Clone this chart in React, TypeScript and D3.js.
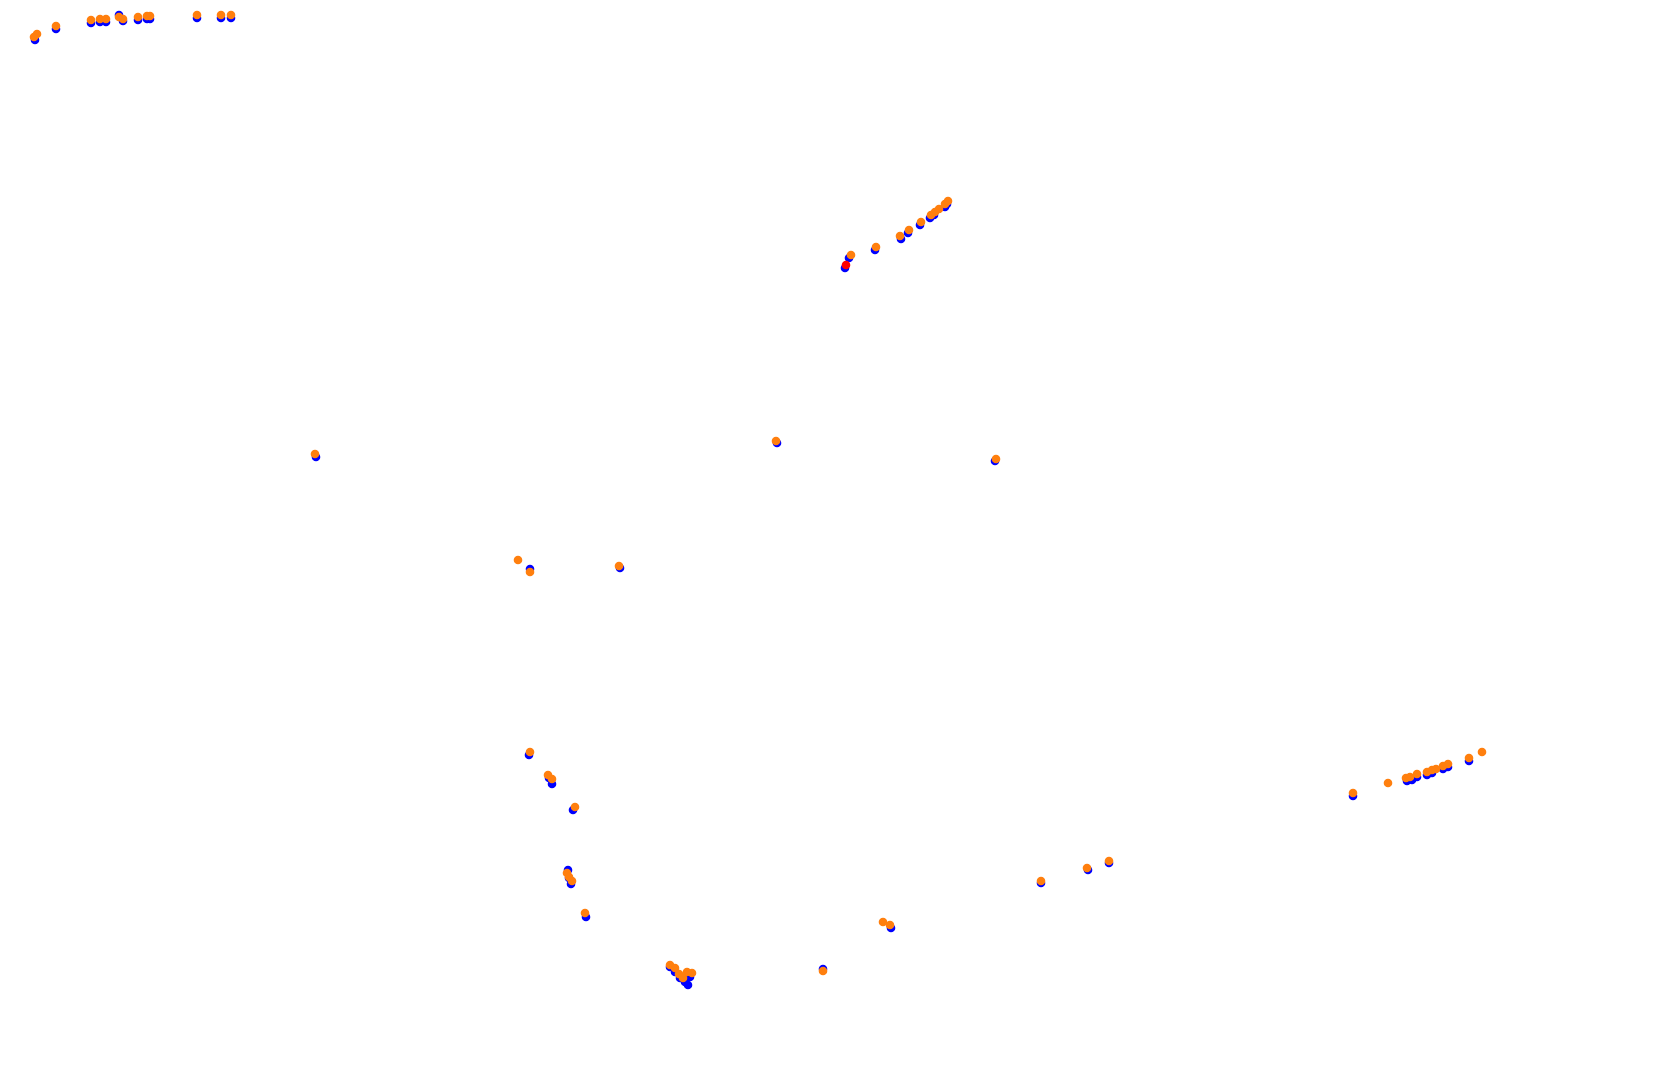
import * as React from 'react';
import { scaleLinear } from 'd3';

// track position samples (map units)
const blueX = [35, 56, 91, 100, 106, 119, 123, 138, 147, 150, 197, 221, 231,
    845, 849, 875, 901, 908, 920, 930, 934, 945, 947,
    316, 777, 995, 530, 620,
    529, 549, 552, 573, 568, 569, 571, 586,
    670, 675, 680, 685, 688, 690,
    823, 891, 1041, 1088, 1109,
    1353, 1407, 1412, 1417, 1427, 1432, 1443, 1448, 1469];
const blueY = [40, 29, 23, 22, 22, 15, 21, 20, 19, 19, 18, 18, 18,
    268, 258, 250, 239, 233, 225, 218, 215, 207, 204,
    457, 443, 461, 569, 568,
    755, 778, 784, 810, 870, 878, 884, 917,
    967, 972, 978, 982, 985, 977,
    969, 928, 883, 870, 863,
    796, 781, 780, 777, 775, 773, 769, 767, 761];

const orangeX = [34, 37, 56, 91, 100, 106, 119, 123, 138, 147, 150, 197, 221, 231,
    851, 876, 900, 909, 921, 931, 935, 939, 945, 948,
    315, 776, 996, 518, 530, 619,
    530, 548, 552, 575, 567, 569, 572, 585,
    670, 675, 679, 687, 692, 683,
    823, 883, 890, 1041, 1087, 1109,
    1353, 1388, 1406, 1410, 1417, 1427, 1432, 1436, 1443, 1448, 1469, 1482];
const orangeY = [37, 34, 26, 20, 19, 19, 17, 19, 17, 16, 16, 15, 15, 15,
    255, 247, 236, 230, 222, 215, 212, 209, 204, 201,
    454, 441, 459, 560, 572, 566,
    752, 775, 779, 807, 873, 877, 881, 913,
    965, 968, 974, 972, 973, 978,
    971, 922, 925, 881, 868, 861,
    793, 783, 778, 777, 774, 772, 770, 769, 766, 764, 758, 752];

const redX = [846];
const redY = [265];

const width = 1680;
const height = 1076;

const App = () => {
    const x = scaleLinear().domain([0, 1680]).range([0, width]);
    const y = scaleLinear().domain([0, 1076]).range([0, height]);

    const dots = (xs: number[], ys: number[], color: string) =>
        xs.map((v, i) => (
            <circle key={color + i} cx={x(v)} cy={y(ys[i])} r={4.3} fill={color} />
        ));

    return (
        <div style={{ position: 'absolute', left: 0, top: 0, width, height, background: '#fff' }}>
            <svg width={width} height={height}>
                <g className="blue">{dots(blueX, blueY, '#0000ff')}</g>
                <g className="orange">{dots(orangeX, orangeY, '#ff7f0e')}</g>
                <g className="red">{dots(redX, redY, '#ff0000')}</g>
            </svg>
        </div>
    );
};

export default App;
